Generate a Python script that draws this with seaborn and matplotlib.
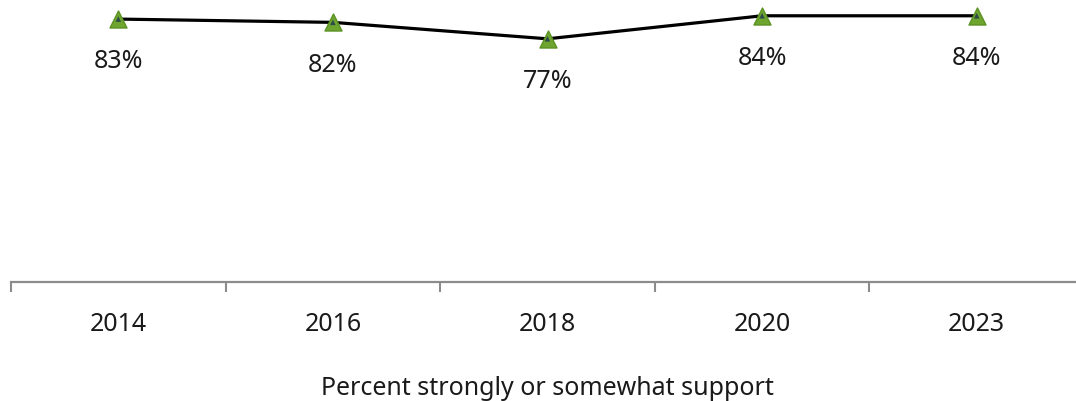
import matplotlib
matplotlib.use("Agg")
import matplotlib.pyplot as plt
import seaborn as sns
import pandas as pd
import numpy as np

years = ["2014", "2016", "2018", "2020", "2023"]
support = [83, 82, 77, 84, 84]

df = pd.DataFrame({"year": years, "support": support})
df["pos"] = np.arange(len(years))

sns.set_theme(style="white")
plt.rcParams["font.family"] = ["Noto Sans", "DejaVu Sans"]

fig = plt.figure(figsize=(10.76, 4.02), dpi=100)
ax = fig.add_axes([11 / 1076, 119 / 402, 1073 / 1076, 283 / 402])

sns.lineplot(data=df, x="pos", y="support", color="black", linewidth=2.3,
             ax=ax, clip_on=False, zorder=2)
sns.scatterplot(data=df, x="pos", y="support", marker="^", s=150,
                color="#6EA52E", edgecolor="#5C9226", linewidth=1.0,
                ax=ax, clip_on=False, zorder=3)
sns.scatterplot(data=df, x="pos", y="support", marker="^", s=16,
                color="#2E4A4A", edgecolor="none",
                ax=ax, clip_on=False, zorder=4)

for x, v in zip(df["pos"], df["support"]):
    ax.annotate(f"{v}%", (x, v), xytext=(0, -30), textcoords="offset points",
                ha="center", va="center", fontsize=18, color="#1a1a1a")

ax.set_xlim(-0.5, len(years) - 0.5)
ax.set_ylim(3.1, 89.1)

ax.set_xticks(df["pos"])
ax.set_xticklabels(years, fontsize=18, color="#1a1a1a")
ax.set_xticks(np.arange(-0.5, len(years), 1.0), minor=True)
ax.tick_params(axis="x", which="major", length=0, pad=21)
ax.tick_params(axis="x", which="minor", length=7, width=1.5, color="#8c8c8c",
               direction="out", bottom=True)
ax.set_yticks([])

for side in ["top", "right", "left"]:
    ax.spines[side].set_visible(False)
ax.spines["bottom"].set_color("#8c8c8c")
ax.spines["bottom"].set_linewidth(1.6)

ax.set_xlabel("Percent strongly or somewhat support", fontsize=18,
              color="#1a1a1a", labelpad=28)
ax.set_ylabel("")

fig.savefig("out.png", dpi=100)
